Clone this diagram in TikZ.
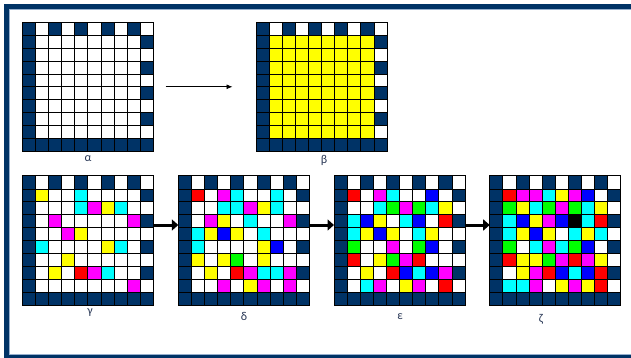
\documentclass[tikz,border=0pt]{standalone}
\usepackage{fontspec}
\setmainfont{Carlito}
\usetikzlibrary{arrows.meta}
\definecolor{dkblue}{RGB}{0,51,102}
\definecolor{lightframe}{RGB}{150,175,205}
\definecolor{labelc}{RGB}{40,55,85}
\definecolor{Y}{RGB}{255,255,0}
\definecolor{C}{RGB}{0,255,255}
\definecolor{M}{RGB}{255,0,255}
\definecolor{R}{RGB}{255,0,0}
\definecolor{B}{RGB}{0,0,255}
\definecolor{G}{RGB}{0,255,0}
\definecolor{K}{RGB}{0,0,0}
\definecolor{W}{RGB}{255,255,255}
\tikzset{
  gridline/.style={draw=black, line width=0.7pt},
  gridborder/.style={draw=black, line width=1pt},
  lbl/.style={text=labelc, font=\fontsize{12}{14}\selectfont, inner sep=0pt},
  thinarrow/.style={draw=black, line width=0.8pt, -{Latex[length=6pt,width=5pt]}},
  thickarrow/.style={draw=black, line width=3pt, -{Triangle[length=6.5pt,width=11pt]}}
}
\newcommand\mygrid[5]{%
  \node[inner sep=0pt, outer sep=0pt, minimum width=131pt, minimum height=129pt, anchor=north west] (#1) at (#2,#3) {};
  \begin{scope}[shift={(#2,#3)}, x=13.1pt, y=-12.9pt]
    \fill[W] (0,0) rectangle (10,10);
    \fill[#4] (1,1) rectangle (9,9);
    \fill[dkblue] (0,0) rectangle (1,10);
    \fill[dkblue] (0,9) rectangle (10,10);
    \foreach \c in {2,4,6,8} \fill[dkblue] (\c,0) rectangle ++(1,1);
    \foreach \r in {1,3,5,7} \fill[dkblue] (9,\r) rectangle ++(1,1);
    \foreach \c/\r/\k in {#5} \fill[\k] (\c,\r) rectangle ++(1,1);
    \foreach \i in {1,...,9} {
      \draw[gridline] (\i,0) -- (\i,10);
      \draw[gridline] (0,\i) -- (10,\i);
    }
    \draw[gridborder] (0,0) rectangle (10,10);
  \end{scope}}
\begin{document}
\begin{tikzpicture}[x=1pt,y=-1pt]
\useasboundingbox (0,0) rectangle (631,358);
\fill[white] (0,0) rectangle (631,358);
% frame
\draw[dkblue, line width=5pt] (640,6.5) -- (6.5,6.5) -- (6.5,357.5) -- (640,357.5);
\draw[lightframe, line width=1pt] (640,9.5) -- (9.5,9.5) -- (9.5,354.5) -- (640,354.5);
% grids
\mygrid{ga}{22.3}{22.3}{W}{1/1/W}
\mygrid{gb}{256}{22.3}{Y}{1/1/Y}
\mygrid{gc}{22.3}{176}{W}{1/1/Y, 4/1/C, 4/2/C, 5/2/M, 6/2/Y, 7/2/C, 2/3/M, 8/3/M, 3/4/M, 4/4/Y, 1/5/C, 6/5/Y, 7/5/C, 3/6/Y, 2/7/Y, 4/7/R, 5/7/M, 6/7/C, 8/8/M}
\mygrid{gd}{178.3}{176}{W}{1/1/R, 3/1/M, 4/1/C, 7/1/C, 3/2/C, 4/2/C, 5/2/M, 6/2/Y, 7/2/C, 2/3/M, 3/3/Y, 5/3/C, 8/3/M, 1/4/C, 2/4/Y, 3/4/B, 4/4/Y, 6/4/C, 1/5/C, 6/5/Y, 7/5/B, 1/6/Y, 3/6/Y, 4/6/G, 6/6/Y, 2/7/Y, 4/7/R, 5/7/M, 6/7/C, 7/7/C, 8/7/M, 3/8/M, 5/8/Y, 6/8/M, 8/8/M}
\mygrid{ge}{334}{176}{W}{1/1/R, 3/1/M, 4/1/C, 7/1/B, 3/2/C, 4/2/G, 5/2/M, 6/2/G, 7/2/C, 8/2/Y, 1/3/C, 2/3/B, 3/3/Y, 5/3/C, 6/3/B, 8/3/R, 1/4/C, 2/4/Y, 3/4/B, 4/4/Y, 6/4/C, 7/4/Y, 1/5/G, 4/5/M, 6/5/G, 7/5/B, 1/6/R, 3/6/Y, 4/6/G, 5/6/M, 6/6/R, 2/7/Y, 4/7/R, 5/7/B, 6/7/C, 7/7/B, 8/7/M, 2/8/C, 3/8/M, 5/8/Y, 6/8/M, 8/8/R}
\mygrid{gf}{489.7}{176}{W}{1/1/R, 2/1/M, 3/1/M, 4/1/C, 5/1/Y, 6/1/M, 7/1/B, 1/2/G, 2/2/Y, 3/2/C, 4/2/G, 5/2/M, 6/2/G, 7/2/C, 8/2/Y, 1/3/C, 2/3/B, 3/3/Y, 4/3/M, 5/3/B, 6/3/K, 7/3/C, 8/3/R, 1/4/C, 2/4/Y, 3/4/B, 4/4/Y, 6/4/C, 7/4/Y, 8/4/C, 1/5/G, 3/5/C, 4/5/M, 5/5/C, 6/5/G, 7/5/B, 1/6/R, 2/6/Y, 3/6/Y, 4/6/G, 5/6/M, 6/6/R, 7/6/M, 8/6/Y, 2/7/Y, 3/7/M, 4/7/R, 5/7/B, 6/7/C, 7/7/B, 8/7/R, 1/8/C, 2/8/C, 3/8/M, 5/8/Y, 6/8/M, 7/8/Y, 8/8/R}
% labels
\node[lbl] (la) at (88,159) {α};
\node[lbl] (lb) at (324,160) {β};
\node[lbl] (lc) at (90,313) {γ};
\node[lbl] (ld) at (244,316) {δ};
\node[lbl] (le) at (400,317) {ε};
\node[lbl] (lf) at (541,319) {ζ};
% arrows
\draw[thinarrow, shorten <=12.4pt, shorten >=23.5pt] (ga.east) -- (gb.west);
\draw[thickarrow] ([yshift=15.5pt]gc.east) -- ([yshift=15.5pt]gd.west);
\draw[thickarrow] ([yshift=15.5pt]gd.east) -- ([yshift=15.5pt]ge.west);
\draw[thickarrow] ([yshift=15.5pt]ge.east) -- ([yshift=15.5pt]gf.west);
\end{tikzpicture}
\end{document}
